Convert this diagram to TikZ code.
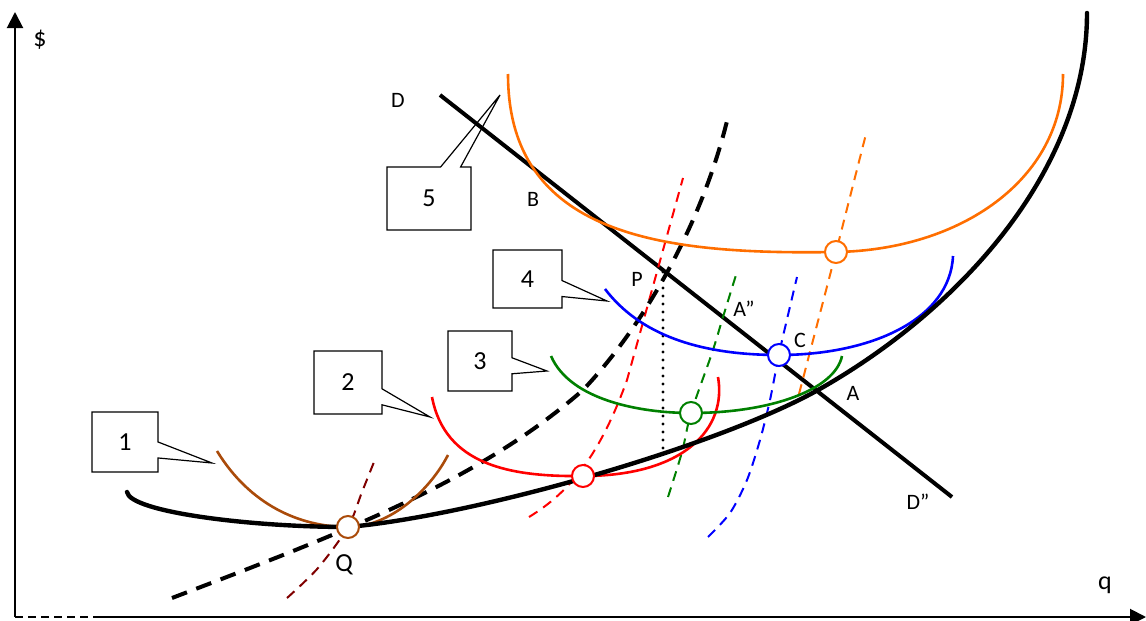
\documentclass[tikz,border=0pt]{standalone}
\usepackage{fontspec}
\setmainfont{Carlito}
\usetikzlibrary{arrows.meta,shapes.callouts}
\definecolor{rust}{RGB}{170,75,10}
\definecolor{maroondash}{RGB}{128,0,0}
\definecolor{srgreen}{RGB}{0,128,0}
\definecolor{sorange}{RGB}{255,110,0}

\begin{document}
\begin{tikzpicture}[x=0.5pt,y=-0.5pt,
  axis/.style={line width=1pt,-{Triangle[length=8pt,width=8pt]}},
  lrac/.style={line width=2.2pt,line cap=round},
  lmc/.style={line width=2pt,dash pattern=on 8pt off 5pt},
  demand/.style={line width=2pt},
  srac/.style={line width=1.3pt},
  smc/.style={line width=1pt,dash pattern=on 5pt off 3.5pt},
  tangent/.style={circle,draw,fill=white,line width=1pt,minimum size=11pt,inner sep=0pt},
  lbl/.style={font=\fontsize{11}{13}\selectfont,inner sep=0pt},
  biglbl/.style={font=\fontsize{13}{15}\selectfont,inner sep=0pt},
  plant/.style={rectangle callout,draw,line width=0.6pt,inner sep=0pt,callout pointer width=8pt,font=\fontsize{13}{15}\selectfont}
]
\useasboundingbox (0,0) rectangle (1146,621);

% Achsen
\coordinate (origin) at (15,617);
\coordinate (ytop) at (15,12);
\coordinate (xcut) at (100,617);
\coordinate (xend) at (1146,617);
\draw[axis] (origin) -- (ytop);
\draw[line width=0.8pt,dash pattern=on 4pt off 2.5pt] (origin) -- (xcut);
\draw[axis] (xcut) -- (xend);
\node[biglbl] (dollar) at (40,40) {\$};
\node[biglbl] (qty) at (1105,585) {q};

% Nachfragegerade D -- D''
\coordinate (dstart) at (440,95);
\coordinate (dend) at (952,497);
\draw[demand] (dstart) -- (dend);

% Tangentialpunkte (Koordinaten)
\coordinate (q1) at (348,527);
\coordinate (q2) at (583,476);
\coordinate (q3) at (691,413);
\coordinate (q4) at (779,355);
\coordinate (q5) at (836,252);

% Kurzfristige Grenzkosten (gestrichelt)
\draw[smc,maroondash] plot[smooth] coordinates {(287,598) (318,568) (348,527) (362,492) (376,457)};
\draw[smc,red] (529,517) .. controls (570,492) and (600,455) .. (627,380) -- (683,178);
\draw[smc,srgreen] plot[smooth] coordinates {(668,497) (682,452) (691,413) (712,353) (723,317) (736,275)};
\draw[smc,blue] plot[smooth] coordinates {(708,537) (730,513) (747,480) (760,440) (770,400) (779,354) (788,315) (797,277)};
\draw[smc,sorange] (799,394) -- (q5) -- (866,134);

% Langfristige Grenzkosten
\draw[lmc] (172,598) .. controls (350,530) and (480,480) .. (583,390)
  .. controls (640,330) and (700,230) .. (727,121);

% Vertikale bei P
\coordinate (ptop) at (663,272);
\coordinate (pfoot) at (663,455);
\draw[line width=1.6pt,line cap=round,dash pattern=on 0pt off 4pt] (ptop) -- (pfoot);

% Kurzfristige Durchschnittskosten 1--5
\draw[srac,rust] (217,451) .. controls (250,505) and (300,527) .. (q1)
  .. controls (390,527) and (430,490) .. (448,455);
\draw[srac,red] (432,397) .. controls (445,465) and (510,477) .. (q2)
  .. controls (685,476) and (727,428) .. (718,377);
\draw[srac,srgreen] (551,356) .. controls (570,400) and (640,413) .. (q3)
  .. controls (770,413) and (835,390) .. (842,356);
\draw[srac,blue] (605,289) .. controls (640,335) and (700,355) .. (q4)
  .. controls (870,355) and (950,320) .. (953,256);
\draw[srac,sorange] (508,74) .. controls (508,235) and (660,255) .. (q5)
  .. controls (960,250) and (1063,180) .. (1063,74);

% Langfristige Durchschnittskosten
\draw[lrac] (127,492) .. controls (130,512) and (250,527) .. (q1)
  .. controls (480,515) and (720,445) .. (818,390)
  .. controls (960,310) and (1087,170) .. (1087,13);

% Tangentialpunkte
\node[tangent,draw=rust] (tq) at (q1) {};
\node[tangent,draw=red] (t2) at (q2) {};
\node[tangent,draw=srgreen] (t3) at (q3) {};
\node[tangent,draw=blue] (t4) at (q4) {};
\node[tangent,draw=sorange] (t5) at (q5) {};

% Beschriftungen
\node[lbl] (dlab) at (398,100) {D};
\node[lbl] (blab) at (533,199) {B};
\node[lbl] (plab) at (637,279) {P};
\node[lbl] (a2lab) at (744,309) {A”};
\node[lbl] (clab) at (800,340) {C};
\node[lbl] (alab) at (853,393) {A};
\node[lbl] (d2lab) at (918,502) {D”};
\node[biglbl] (qlab) at (344,565) {Q};

% Betriebsgrößen 1--5
\node[plant,minimum width=33pt,minimum height=30pt,callout absolute pointer={(212,463)}] (plant1) at (125,442) {1\hspace{7pt}};
\node[plant,minimum width=34pt,minimum height=31.5pt,callout absolute pointer={(430,417)}] (plant2) at (348,382.5) {2\hspace{6pt}};
\node[plant,minimum width=32pt,minimum height=30pt,callout absolute pointer={(547,371)}] (plant3) at (480,361) {3\hspace{5pt}};
\node[plant,minimum width=34.5pt,minimum height=29pt,callout absolute pointer={(607,301)}] (plant4) at (527.5,279) {4\hspace{8pt}};
\node[plant,minimum width=42pt,minimum height=31.5pt,callout pointer width=10pt,callout absolute pointer={(500,95)}] (plant5) at (429,198.5) {5\hspace{14pt}};

\end{tikzpicture}
\end{document}
